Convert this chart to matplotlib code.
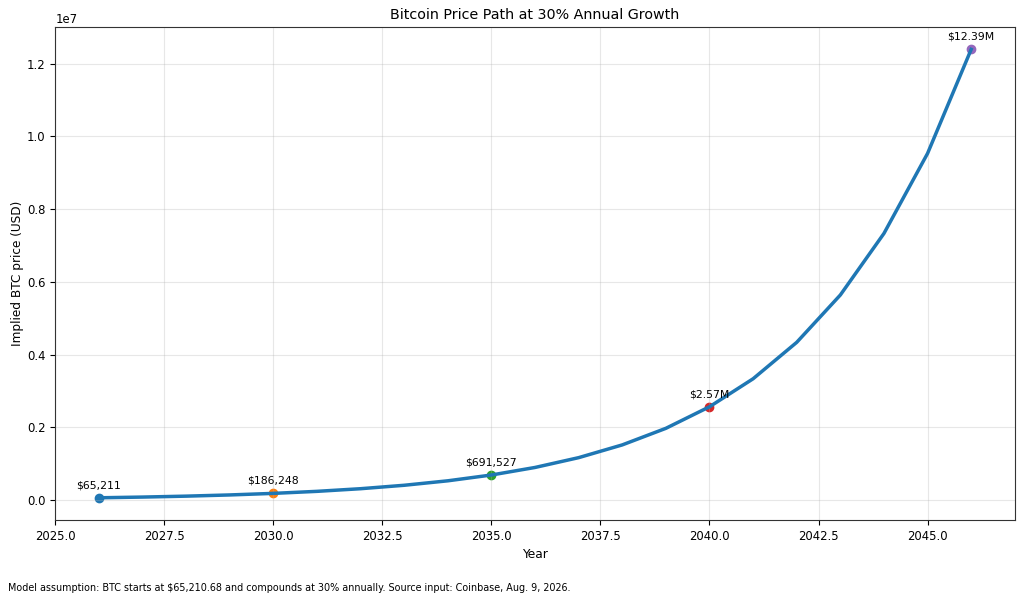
import matplotlib.pyplot as plt

years = [2026, 2027, 2028, 2029, 2030, 2031, 2032, 2033, 2034, 2035, 2036,
         2037, 2038, 2039, 2040, 2041, 2042, 2043, 2044, 2045, 2046]
prices = [65210.68, 84773.88, 110206.05, 143267.86, 186248.22, 242122.69,
          314759.50, 409187.35, 531943.55, 691526.62, 898984.60, 1168679.98,
          1519283.97, 1975069.16, 2567589.91, 3337866.88, 4339226.94,
          5640995.02, 7333293.53, 9533281.59, 12393266.13]

mark_years = [2026, 2030, 2035, 2040, 2046]
mark_labels = ['$65,211', '$186,248', '$691,527', '$2.57M', '$12.39M']

fig, ax = plt.subplots(figsize=(10.24, 6), dpi=100)
ax.plot(years, prices, linewidth=2.5)

for yr, lab in zip(mark_years, mark_labels):
    p = prices[years.index(yr)]
    ax.scatter([yr], [p])
    ax.annotate(lab, (yr, p), textcoords='offset points', xytext=(0, 7),
                ha='center', fontsize=7.8)

ax.set_title('Bitcoin Price Path at 30% Annual Growth', fontsize=10.3)
ax.set_xlabel('Year', fontsize=8.8)
ax.set_ylabel('Implied BTC price (USD)', fontsize=8.7, labelpad=2)
ax.tick_params(labelsize=8.4)
ax.yaxis.get_offset_text().set_fontsize(8.4)
ax.grid(True, alpha=0.3)
for s in ax.spines.values():
    s.set_color('#333333')

fig.text(0.008, 0.015,
         'Model assumption: BTC starts at $65,210.68 and compounds at 30% annually. '
         'Source input: Coinbase, Aug. 9, 2026.', fontsize=6.9)

fig.subplots_adjust(left=0.054, right=0.991, top=0.955, bottom=0.133)
fig.savefig('out.png')
